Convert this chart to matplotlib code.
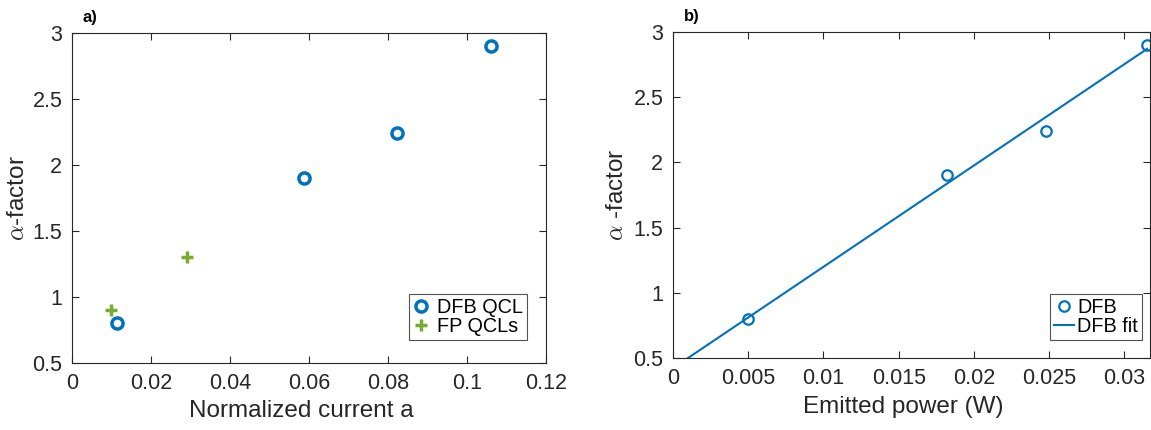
import matplotlib
matplotlib.use("Agg")
import matplotlib.pyplot as plt

# Panel a data
dfb_current = [0.0115, 0.0588, 0.0823, 0.1060]
dfb_alpha = [0.80, 1.90, 2.24, 2.90]
fp_current = [0.0098, 0.0290]
fp_alpha = [0.90, 1.30]

# Panel b data
dfb_power = [0.0050, 0.0182, 0.0248, 0.0315]
dfb_alpha_b = [0.80, 1.90, 2.24, 2.90]
fit_power = [0.0010, 0.0315]
fit_alpha = [0.50, 2.87]

a_xticks = [0, 0.02, 0.04, 0.06, 0.08, 0.1, 0.12]
a_xticklabels = ["0", "0.02", "0.04", "0.06", "0.08", "0.1", "0.12"]
b_xticks = [0, 0.005, 0.01, 0.015, 0.02, 0.025, 0.03]
b_xticklabels = ["0", "0.005", "0.01", "0.015", "0.02", "0.025", "0.03"]
yticks = [0.5, 1, 1.5, 2, 2.5, 3]
yticklabels = ["0.5", "1", "1.5", "2", "2.5", "3"]

plt.rcParams['font.family'] = ['Liberation Sans', 'DejaVu Sans']
plt.rcParams['mathtext.fontset'] = 'cm'

BLUE = '#0072BD'
GREEN = '#77AC30'
AXC = '#262626'

fig = plt.figure(figsize=(11.51, 4.30), dpi=100)
ax1 = fig.add_axes([72/1151, (430-363)/430, 474/1151, 330/430])
ax2 = fig.add_axes([673/1151, (430-358)/430, 477/1151, 326/430])

def style(ax):
    ax.tick_params(direction='in', top=True, right=True, labelsize=15.5,
                   colors=AXC, length=5, width=0.8, pad=7)
    for s in ax.spines.values():
        s.set_color(AXC)
        s.set_linewidth(0.8)

ax1.plot(dfb_current, dfb_alpha, linestyle='none', marker='o', markersize=8,
         markerfacecolor='none', markeredgecolor=BLUE, markeredgewidth=2.5, label='DFB QCL')
ax1.plot(fp_current, fp_alpha, linestyle='none', marker='+', markersize=9,
         markeredgecolor=GREEN, markeredgewidth=2.5, label='FP QCLs')
ax1.set_xlim(0, 0.12)
ax1.set_ylim(0.5, 3)
ax1.set_xticks(a_xticks)
ax1.set_xticklabels(a_xticklabels)
ax1.set_yticks(yticks)
ax1.set_yticklabels(yticklabels)
style(ax1)
ax1.set_xlabel('Normalized current a', fontsize=17.5, color=AXC)
ax1.set_ylabel(r'$\alpha$-factor', fontsize=17.5, color=AXC)
ax1.xaxis.set_label_coords(0.483, -0.112)
ax1.yaxis.set_label_coords(-0.091, 0.5)
leg1 = ax1.legend(loc='lower right', bbox_to_anchor=(0.960, 0.070), fontsize=14.3,
                  frameon=True, fancybox=False, handlelength=0.8, handletextpad=0.4,
                  borderpad=0.2, labelspacing=0.02, borderaxespad=0)
leg1.get_frame().set_edgecolor(AXC)
leg1.get_frame().set_linewidth(0.8)
ax1.text(0.022, 1.025, 'a)', transform=ax1.transAxes, fontsize=12, fontweight='bold',
         ha='left', va='bottom')

ax2.plot(dfb_power, dfb_alpha_b, linestyle='none', marker='o', markersize=7.5,
         markerfacecolor='none', markeredgecolor=BLUE, markeredgewidth=1.6, label='DFB')
ax2.plot(fit_power, fit_alpha, color=BLUE, linewidth=1.5, label='DFB fit')
ax2.set_xlim(0, 0.0317)
ax2.set_ylim(0.5, 3)
ax2.set_xticks(b_xticks)
ax2.set_xticklabels(b_xticklabels)
ax2.set_yticks(yticks)
ax2.set_yticklabels(yticklabels)
style(ax2)
ax2.set_xlabel('Emitted power (W)', fontsize=17.5, color=AXC)
ax2.set_ylabel(r'$\alpha$ -factor', fontsize=17.5, color=AXC)
ax2.xaxis.set_label_coords(0.483, -0.117)
ax2.yaxis.set_label_coords(-0.094, 0.5)
leg2 = ax2.legend(loc='lower right', bbox_to_anchor=(0.983, 0.055), fontsize=14.3,
                  frameon=True, fancybox=False, handlelength=1.0, handletextpad=0.15,
                  borderpad=0.2, labelspacing=0.02, borderaxespad=0)
leg2.get_frame().set_edgecolor(AXC)
leg2.get_frame().set_linewidth(0.8)
ax2.text(0.022, 1.025, 'b)', transform=ax2.transAxes, fontsize=12, fontweight='bold',
         ha='left', va='bottom')

fig.savefig('out.png', dpi=100)
